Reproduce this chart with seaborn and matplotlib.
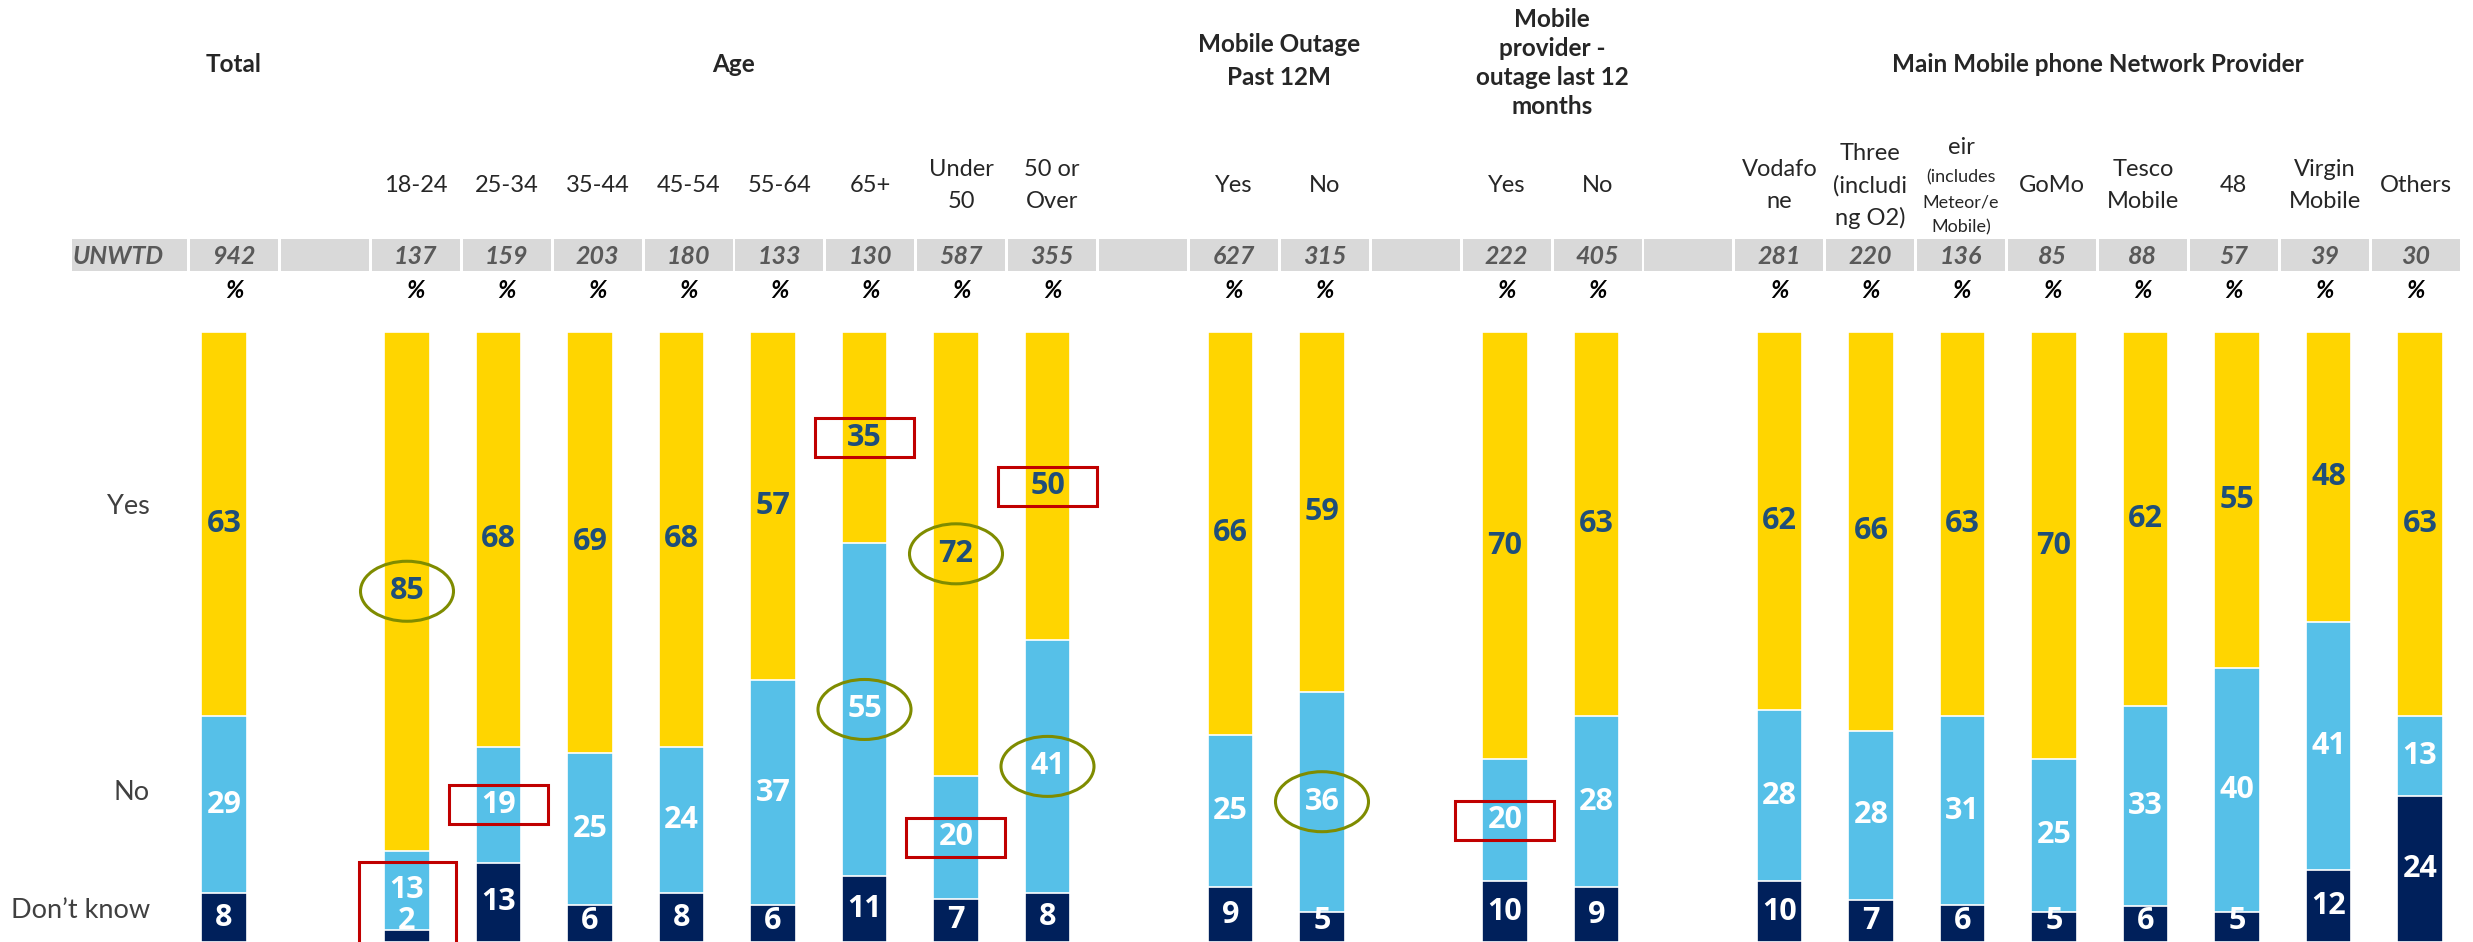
"""
plot.py

Stacked 100% bars: Yes / No / Don't know by banner column,
with the banner table (headers, UNWTD base row, % row) drawn above.
"""

import matplotlib
matplotlib.use("Agg")
import matplotlib.pyplot as plt
from matplotlib.patches import Rectangle, Ellipse
import pandas as pd
import seaborn as sns

# ---- values ----
groups = ["Total", "18-24", "25-34", "35-44", "45-54", "55-64", "65+",
          "Under 50", "50 or Over", "Outage Yes", "Outage No",
          "Provider Yes", "Provider No", "Vodafone", "Three", "eir",
          "GoMo", "Tesco Mobile", "48", "Virgin Mobile", "Others"]
yes = [63, 85, 68, 69, 68, 57, 35, 72, 50, 66, 59, 70, 63, 62, 66, 63, 70, 62, 55, 48, 63]
no = [29, 13, 19, 25, 24, 37, 55, 20, 41, 25, 36, 20, 28, 28, 28, 31, 25, 33, 40, 41, 13]
dont_know = [8, 2, 13, 6, 8, 6, 11, 7, 8, 9, 5, 10, 9, 10, 7, 6, 5, 6, 5, 12, 24]
unwtd = [942, 137, 159, 203, 180, 133, 130, 587, 355, 627, 315, 222, 405,
         281, 220, 136, 85, 88, 57, 39, 30]

sub_labels = ["", "18-24", "25-34", "35-44", "45-54", "55-64", "65+",
              "Under\n50", "50 or\nOver", "Yes", "No", "Yes", "No",
              "Vodafo\nne", "Three\n(includi\nng O2)", "eir", "GoMo",
              "Tesco\nMobile", "48", "Virgin\nMobile", "Others"]
eir_note = "(includes\nMeteor/e\nMobile)"

# column slots, with empty spacer columns between banner sections
slot_order = ["Total", "_gap1",
              "18-24", "25-34", "35-44", "45-54", "55-64", "65+", "Under 50", "50 or Over",
              "_gap2", "Outage Yes", "Outage No",
              "_gap3", "Provider Yes", "Provider No",
              "_gap4", "Vodafone", "Three", "eir", "GoMo", "Tesco Mobile", "48",
              "Virgin Mobile", "Others"]

# text, first slot, last slot, centre y (px), line step (px)
banners = [("Total", "Total", "Total", 65, 0),
           ("Age", "18-24", "50 or Over", 65, 0),
           ("Mobile Outage\nPast 12M", "Outage Yes", "Outage No", 61, 33),
           ("Mobile\nprovider -\noutage last 12\nmonths", "Provider Yes", "Provider No", 63, 29),
           ("Main Mobile phone Network Provider", "Vodafone", "Others", 65, 0)]

highlights = [("18-24", "yes", "oval"), ("65+", "no", "oval"),
              ("Under 50", "yes", "oval"), ("50 or Over", "no", "oval"),
              ("Outage No", "no", "oval"),
              ("65+", "yes", "box"), ("50 or Over", "yes", "box"),
              ("25-34", "no", "box"), ("Under 50", "no", "box"),
              ("Provider Yes", "no", "box"), ("18-24", "no+dk", "box")]

# ---- styling / layout ----
YELLOW, SKY, NAVY = "#FFD500", "#56C0E8", "#00205B"
LABEL_DARK = "#1F4E79"
OLIVE, RED = "#7F8C00", "#C00000"
W, H = 2473, 942
BAR_X0, BAR_DX = 224, 91.5     # pixel centre of first bar, bar pitch
CELL_X0, CELL_DX = 234, 90.9   # pixel centre of first table cell, cell pitch
PX_PER_PCT = 6.1

sns.set_style("white")
plt.rcParams["font.family"] = ["Lato", "DejaVu Sans"]

df = pd.DataFrame({"key": groups, "yes": yes, "no": no, "dk": dont_know})
tot = df[["yes", "no", "dk"]].sum(axis=1)
df["yes_n"] = df["yes"] / tot * 100
df["no_n"] = df["no"] / tot * 100
df["dk_n"] = df["dk"] / tot * 100
df["layer_top"] = df["yes_n"] + df["no_n"] + df["dk_n"]
df["layer_mid"] = df["no_n"] + df["dk_n"]
df["layer_low"] = df["dk_n"]

fig = plt.figure(figsize=(W / 100, H / 100), dpi=100)
ax = fig.add_axes([0, 0, 1, 1])

for col, colour in [("layer_top", YELLOW), ("layer_mid", SKY), ("layer_low", NAVY)]:
    sns.barplot(data=df, x="key", y=col, order=slot_order, color=colour,
                saturation=1, width=0.5, errorbar=None,
                edgecolor="white", linewidth=1.2, ax=ax)

ax.set_xlim(-BAR_X0 / BAR_DX, (W - BAR_X0) / BAR_DX)
ax.set_ylim(0, H / PX_PER_PCT)
ax.axis("off")

# segment value labels
label_pos = {}
for _, r in df.iterrows():
    x = slot_order.index(r["key"])
    y_yes = r["layer_top"] - r["yes_n"] / 2
    y_no = r["dk_n"] + r["no_n"] / 2
    y_dk = max(r["dk_n"] / 2, 3.4)
    label_pos[r["key"]] = (x, y_yes, y_no, y_dk)
    for val, yy, c in [(r["yes"], y_yes, LABEL_DARK), (r["no"], y_no, "white"),
                       (r["dk"], y_dk, "white")]:
        ax.text(x, yy, str(val), ha="center", va="center", color=c,
                fontsize=22, fontweight="bold", family=["Open Sans", "DejaVu Sans"])

# circled / boxed call-outs
for key, seg, shape in highlights:
    x, y_yes, y_no, y_dk = label_pos[key]
    y = {"yes": y_yes, "no": y_no, "no+dk": y_no}[seg]
    if shape == "oval":
        ax.add_patch(Ellipse((x, y), 93 / BAR_DX, 60 / PX_PER_PCT, fill=False,
                             edgecolor=OLIVE, linewidth=2.2, zorder=5))
    elif seg == "no+dk":
        top = y + 4.6
        ax.add_patch(Rectangle((x - 48 / BAR_DX, -3), 97 / BAR_DX, top + 3, fill=False,
                               edgecolor=RED, linewidth=2.2, zorder=5, clip_on=False))
    else:
        ax.add_patch(Rectangle((x - 50 / BAR_DX, y - 19.5 / PX_PER_PCT),
                               99 / BAR_DX, 39 / PX_PER_PCT, fill=False,
                               edgecolor=RED, linewidth=2.2, zorder=5))


def fpos(px, py):
    return px / W, 1 - py / H


def cell_x(slot):
    return CELL_X0 + CELL_DX * slot


def put_lines(text, cx, cy, step, **kw):
    # one text per line so the line pitch matches the table exactly
    lines = text.split("\n")
    for k, line in enumerate(lines):
        py = cy + (k - (len(lines) - 1) / 2) * step
        fig.text(*fpos(cx, py), line, ha="center", va="center", **kw)


# banner headers
for text, first, last, py, step in banners:
    cx = (cell_x(slot_order.index(first)) + cell_x(slot_order.index(last))) / 2
    put_lines(text, cx, py, step, fontsize=17.5, fontweight="bold")

# sub headers
for key, lab in zip(groups, sub_labels):
    s = slot_order.index(key)
    if key == "eir":
        put_lines(lab, cell_x(s), 147, 0, fontsize=17)
        put_lines(eir_note, cell_x(s), 202, 25, fontsize=13)
    elif lab:
        put_lines(lab, cell_x(s), 186, 32, fontsize=17)

# UNWTD base row and % row
fig.add_artist(Rectangle(fpos(72, 271), 115 / W, 32 / H, transform=fig.transFigure,
                         facecolor="#D9D9D9", edgecolor="none"))
fig.text(*fpos(73, 257), "UNWTD", ha="left", va="center", fontsize=18,
         fontweight="bold", style="italic", color="#595959")
for s, key in enumerate(slot_order):
    cx = cell_x(s)
    fig.add_artist(Rectangle(fpos(cx - 44, 271), 88 / W, 32 / H,
                             transform=fig.transFigure,
                             facecolor="#D9D9D9", edgecolor="none"))
    if key in groups:
        n = unwtd[groups.index(key)]
        fig.text(*fpos(cx, 257), str(n), ha="center", va="center", fontsize=18,
                 fontweight="bold", style="italic", color="#595959")
        fig.text(*fpos(cx, 291), "%", ha="center", va="center", fontsize=17.5,
                 fontweight="bold", style="italic", color="black")

# row labels on the left
for text, py in [("Yes", 507), ("No", 793), ("Don\u2019t know", 910)]:
    fig.text(*fpos(150, py), text, ha="right", va="center", fontsize=19.5,
             color="#404040")

fig.savefig("out.png", dpi=100)
